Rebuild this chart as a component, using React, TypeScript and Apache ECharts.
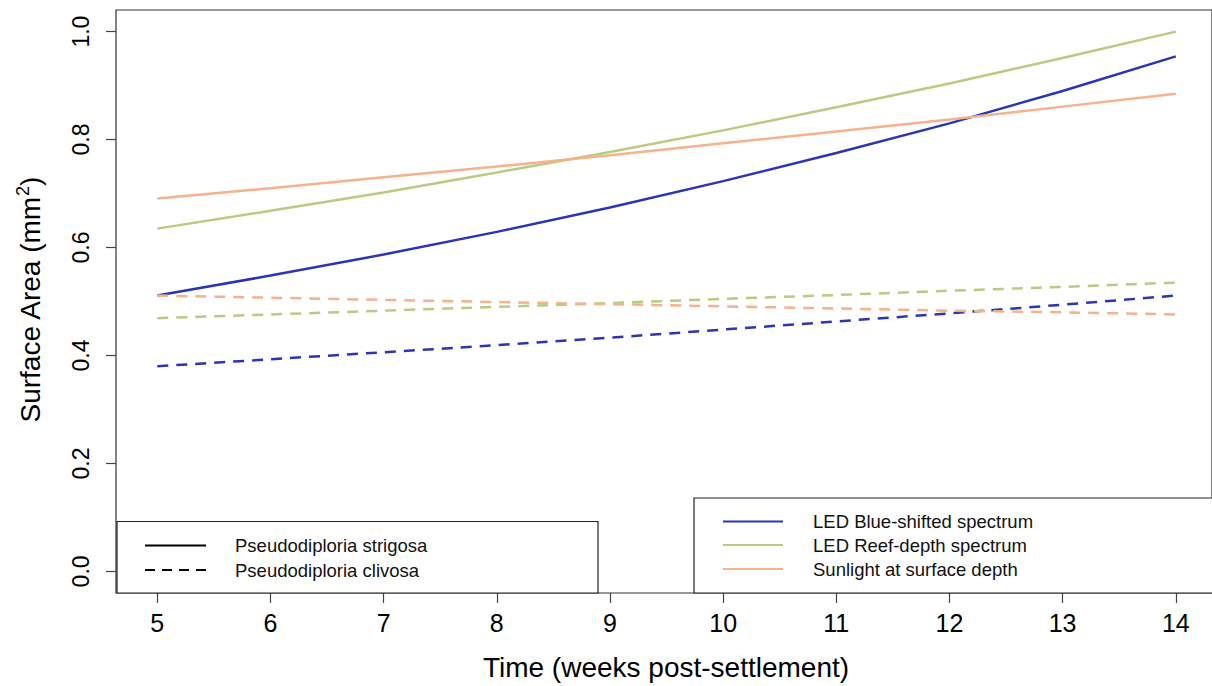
import React, { useEffect, useRef } from "react";
import * as echarts from "echarts";

const weeks = [5, 6, 7, 8, 9, 10, 11, 12, 13, 14];
const strigosaBlue = [0.511, 0.548, 0.587, 0.629, 0.674, 0.723, 0.775, 0.830, 0.890, 0.954];
const strigosaGreen = [0.635, 0.668, 0.702, 0.739, 0.777, 0.817, 0.860, 0.904, 0.951, 1.0];
const strigosaOrange = [0.691, 0.710, 0.730, 0.750, 0.771, 0.793, 0.815, 0.837, 0.861, 0.885];
const clivosaBlue = [0.380, 0.393, 0.406, 0.419, 0.433, 0.448, 0.463, 0.478, 0.494, 0.511];
const clivosaGreen = [0.469, 0.476, 0.483, 0.490, 0.497, 0.505, 0.512, 0.520, 0.527, 0.535];
const clivosaOrange = [0.511, 0.507, 0.503, 0.499, 0.495, 0.491, 0.487, 0.483, 0.480, 0.476];

const xTicks = [5, 6, 7, 8, 9, 10, 11, 12, 13, 14];
const yTicks = [0, 0.2, 0.4, 0.6, 0.8, 1.0];

const speciesLabels = ["Pseudodiploria strigosa", "Pseudodiploria clivosa"];
const treatmentLabels = ["LED Blue-shifted spectrum", "LED Reef-depth spectrum", "Sunlight at surface depth"];

const BLUE = "#2b34b6";
const GREEN = "#b8cb80";
const ORANGE = "#f5b28c";
const FONT = "'Liberation Sans', Arial, Helvetica, sans-serif";

function pairs(vals: number[]) {
  return weeks.map((w, i) => [w, vals[i]]);
}

export default function App() {
  const ref = useRef<HTMLDivElement>(null);
  useEffect(() => {
    if (!ref.current) return;
    const chart = echarts.init(ref.current, undefined, { renderer: "svg" });
    const mk = (name: string, vals: number[], color: string, dashed: boolean) => ({
      name,
      type: "line",
      data: pairs(vals),
      showSymbol: false,
      symbol: "none",
      smooth: false,
      lineStyle: { color, width: 2.5, type: dashed ? [11, 8] : "solid" },
      z: 2,
    });
    const legendLineStyle = (color: string, dashed: boolean) => ({
      stroke: color,
      lineWidth: 2,
      lineDash: dashed ? [10, 7] : null,
    });
    const LF = `18.5px ${FONT}`;
    chart.setOption({
      animation: false,
      backgroundColor: "#ffffff",
      textStyle: { fontFamily: FONT },
      grid: { left: 116, top: 10, right: 0, bottom: 93, show: true, borderColor: "#333", borderWidth: 1.2, backgroundColor: "transparent" },
      xAxis: {
        type: "value",
        min: 4.635,
        max: 14.32,
        axisLine: { show: false, onZero: false },
        splitLine: { show: false },
        axisTick: { show: true, length: 10, lineStyle: { color: "#444", width: 1.2 }, customValues: xTicks },
        axisLabel: { color: "#000", fontSize: 25, margin: 17, fontFamily: FONT, customValues: xTicks, formatter: (v: number) => String(v) },
      },
      yAxis: {
        type: "value",
        min: -0.04,
        max: 1.04,
        axisLine: { show: false, onZero: false },
        splitLine: { show: false },
        axisTick: { show: true, length: 10, lineStyle: { color: "#444", width: 1.2 }, customValues: yTicks },
        axisLabel: { color: "#000", fontSize: 23, margin: 24, rotate: 90, fontFamily: FONT, customValues: yTicks, formatter: (v: number) => v.toFixed(1) },
      },
      series: [
        mk("strigosa blue", strigosaBlue, BLUE, false),
        mk("strigosa green", strigosaGreen, GREEN, false),
        mk("strigosa orange", strigosaOrange, ORANGE, false),
        mk("clivosa blue", clivosaBlue, BLUE, true),
        mk("clivosa green", clivosaGreen, GREEN, true),
        mk("clivosa orange", clivosaOrange, ORANGE, true),
      ],
      graphic: [
        {
          type: "text",
          x: 666,
          y: 667,
          style: { text: "Time (weeks post-settlement)", font: `28px ${FONT}`, fill: "#000", align: "center", verticalAlign: "middle" },
        },
        {
          type: "text",
          x: 30,
          y: 300,
          rotation: Math.PI / 2,
          style: {
            text: "{a|Surface Area (mm}{s|2}{a|)}",
            align: "center",
            verticalAlign: "middle",
            rich: {
              a: { fontSize: 28, fontFamily: FONT, fill: "#000", lineHeight: 32 },
              s: { fontSize: 18, fontFamily: FONT, fill: "#000", verticalAlign: "top", lineHeight: 32 },
            },
          },
        },
        {
          type: "rect",
          shape: { x: 117, y: 521.5, width: 481, height: 71.5 },
          style: { fill: "#fff", stroke: "#222", lineWidth: 1.2 },
          z: 10,
        },
        { type: "line", shape: { x1: 145, y1: 545.5, x2: 206, y2: 545.5 }, style: legendLineStyle("#000", false), z: 11 },
        { type: "line", shape: { x1: 145, y1: 570, x2: 206, y2: 570 }, style: legendLineStyle("#000", true), z: 11 },
        { type: "text", x: 235, y: 545.5, style: { text: speciesLabels[0], font: LF, fill: "#111", verticalAlign: "middle" }, z: 11 },
        { type: "text", x: 235, y: 570, style: { text: speciesLabels[1], font: LF, fill: "#111", verticalAlign: "middle" }, z: 11 },
        {
          type: "rect",
          shape: { x: 694, y: 498, width: 530, height: 95 },
          style: { fill: "#fff", stroke: "#222", lineWidth: 1.2 },
          z: 10,
        },
        { type: "line", shape: { x1: 723, y1: 521.5, x2: 783, y2: 521.5 }, style: legendLineStyle(BLUE, false), z: 11 },
        { type: "line", shape: { x1: 723, y1: 545, x2: 783, y2: 545 }, style: legendLineStyle(GREEN, false), z: 11 },
        { type: "line", shape: { x1: 723, y1: 569, x2: 783, y2: 569 }, style: legendLineStyle(ORANGE, false), z: 11 },
        { type: "text", x: 813, y: 521.5, style: { text: treatmentLabels[0], font: LF, fill: "#111", verticalAlign: "middle" }, z: 11 },
        { type: "text", x: 813, y: 545, style: { text: treatmentLabels[1], font: LF, fill: "#111", verticalAlign: "middle" }, z: 11 },
        { type: "text", x: 813, y: 569, style: { text: treatmentLabels[2], font: LF, fill: "#111", verticalAlign: "middle" }, z: 11 },
      ],
    });
    return () => chart.dispose();
  }, []);
  return (
    <div
      ref={ref}
      style={{ position: "absolute", left: 0, top: 0, width: 1212, height: 686, background: "#fff" }}
    />
  );
}
